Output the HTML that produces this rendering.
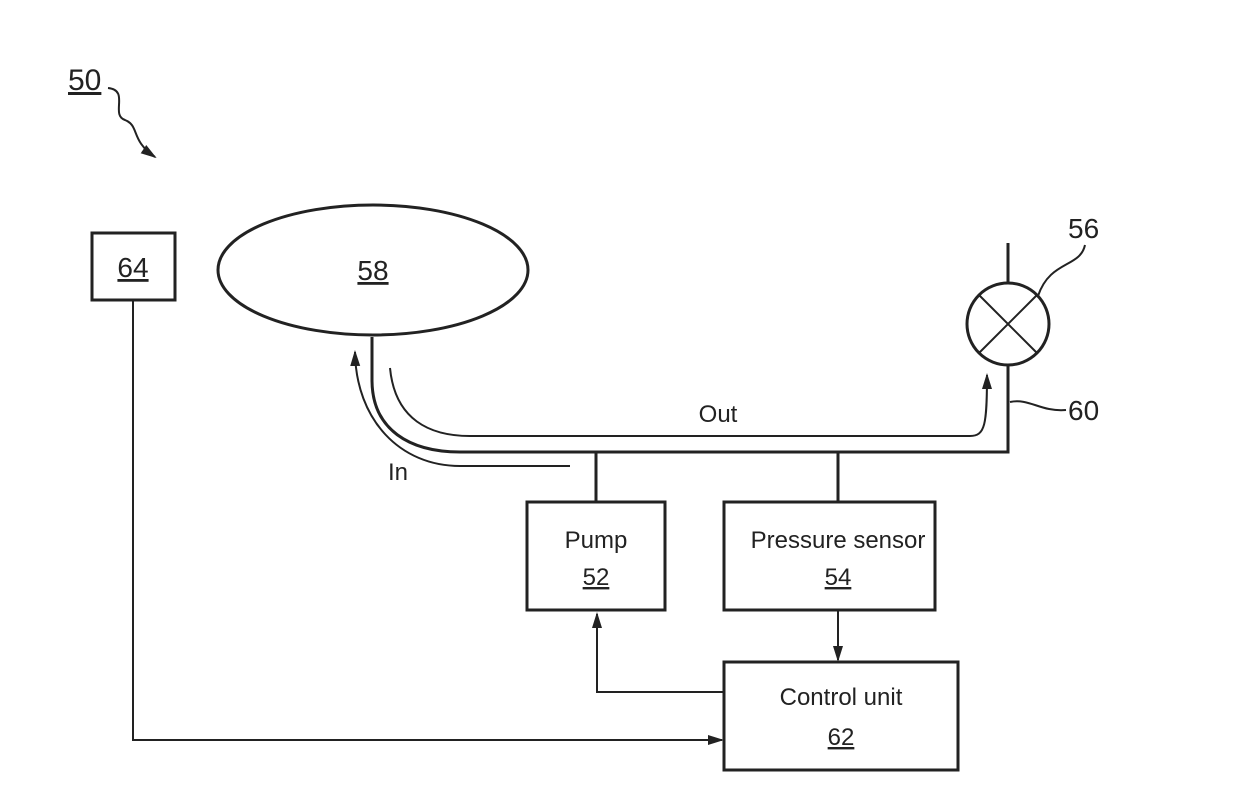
<!DOCTYPE html>
<html><head><style>body{margin:0;background:#fff}svg{display:block}text{font-family:"Liberation Sans",sans-serif;fill:#222}</style></head><body>
<svg width="1240" height="808" viewBox="0 0 1240 808" xmlns="http://www.w3.org/2000/svg">
<defs><marker id="a" markerWidth="10" markerHeight="10" refX="9" refY="5" orient="auto" markerUnits="userSpaceOnUse" viewBox="0 0 10 10"><path d="M0,1 L10,5 L0,9 z" fill="#222"/></marker>
<marker id="b" markerWidth="16" markerHeight="12" refX="14" refY="6" orient="auto" markerUnits="userSpaceOnUse" viewBox="0 0 16 12"><path d="M0,1 L16,6 L0,11 z" fill="#222"/></marker></defs>
<g fill="none" stroke="#222" stroke-width="3">
<text x="68" y="90" font-size="30" stroke="none" text-decoration="underline">50</text>
<path d="M108,88 C130,90 110,115 125,120 C140,126 130,140 155,157" stroke-width="2" marker-end="url(#b)"/>
<rect x="92" y="233" width="83" height="67"/>
<text x="133" y="277" font-size="28" stroke="none" text-anchor="middle" text-decoration="underline">64</text>
<ellipse cx="373" cy="270" rx="155" ry="65"/>
<text x="373" y="280" font-size="28" stroke="none" text-anchor="middle" text-decoration="underline">58</text>
<circle cx="1008" cy="324" r="41"/>
<path d="M979,295 L1037,353 M1037,295 L979,353" stroke-width="2"/>
<path d="M1008,243 L1008,283"/>
<path d="M1038,296 C1050,260 1080,268 1085,245" stroke-width="2"/>
<text x="1068" y="238" font-size="28" stroke="none">56</text>
<path d="M372,337 L372,380 C372,430 410,452 460,452 L1008,452 L1008,365"/>
<path d="M1010,402 C1030,398 1040,412 1066,410" stroke-width="2"/>
<text x="1068" y="420" font-size="28" stroke="none">60</text>
<path d="M390,368 C395,420 430,436 470,436 L970,436 C985,436 987,425 987,375" stroke-width="2" marker-end="url(#b)"/>
<text x="718" y="422" font-size="24" stroke="none" text-anchor="middle">Out</text>
<path d="M570,466 L460,466 C400,466 356,420 355,352" stroke-width="2" marker-end="url(#b)"/>
<text x="388" y="480" font-size="24" stroke="none">In</text>
<path d="M596,452 L596,502 M838,452 L838,502"/>
<rect x="527" y="502" width="138" height="108"/>
<text x="596" y="548" font-size="24" stroke="none" text-anchor="middle">Pump</text>
<text x="596" y="585" font-size="24" stroke="none" text-anchor="middle" text-decoration="underline">52</text>
<rect x="724" y="502" width="211" height="108"/>
<text x="838" y="548" font-size="24" stroke="none" text-anchor="middle">Pressure sensor</text>
<text x="838" y="585" font-size="24" stroke="none" text-anchor="middle" text-decoration="underline">54</text>
<rect x="724" y="662" width="234" height="108"/>
<text x="841" y="705" font-size="24" stroke="none" text-anchor="middle">Control unit</text>
<text x="841" y="745" font-size="24" stroke="none" text-anchor="middle" text-decoration="underline">62</text>
<path d="M838,610 L838,660" stroke-width="2" marker-end="url(#b)"/>
<path d="M724,692 L597,692 L597,614" stroke-width="2" marker-end="url(#b)"/>
<path d="M133,300 L133,740 L722,740" stroke-width="2" marker-end="url(#b)"/>
</g>
</svg>
</body></html>
